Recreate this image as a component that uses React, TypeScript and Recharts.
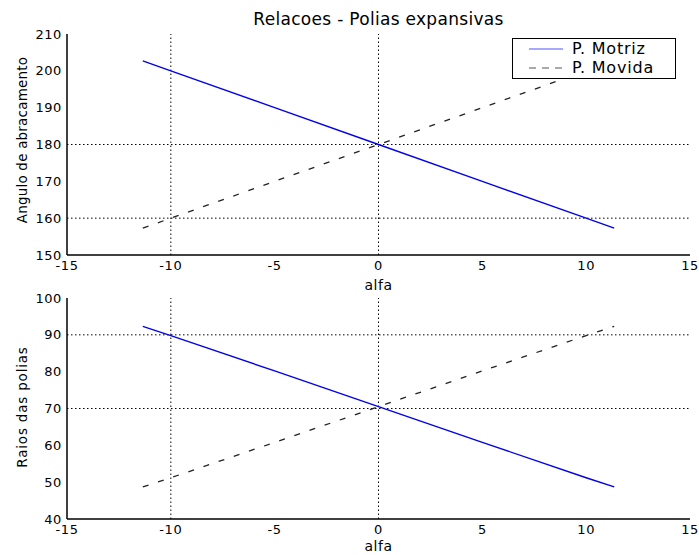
import { LineChart, Line, XAxis, YAxis, ReferenceLine } from "recharts";

// values
const alfa = [-11.35, -10, -5, 0, 5, 10, 11.35];
const anguloMotriz = [202.7, 200, 190, 180, 170, 160, 157.3];
const anguloMovida = [157.3, 160, 170, 180, 190, 200, 202.7];
const raioMotriz = [92.3, 89.8, 80.2, 70.5, 60.8, 51.2, 48.7];
const raioMovida = [48.7, 51.2, 60.8, 70.5, 80.2, 89.8, 92.3];

const xTicks = [-15, -10, -5, 0, 5, 10, 15];
const anguloTicks = [150, 160, 170, 180, 190, 200, 210];
const raioTicks = [40, 50, 60, 70, 80, 90, 100];

const topData = alfa.map((a, i) => ({ alfa: a, motriz: anguloMotriz[i], movida: anguloMovida[i] }));
const bottomData = alfa.map((a, i) => ({ alfa: a, motriz: raioMotriz[i], movida: raioMovida[i] }));

const FONT = "DejaVu Sans, sans-serif";
const tickStyle = { fontSize: 13, fill: "#000", fontFamily: FONT, letterSpacing: 0.6 };
const dotted = "1.5 2.5";

function Panel({ data, domain, ticks, gridX, gridY }: { data: any[]; domain: [number, number]; ticks: number[]; gridX: number[]; gridY: number[] }) {
    return (
        <LineChart width={699} height={280} data={data} margin={{ top: 34, right: 9, left: 0, bottom: 0 }}>
            <XAxis
                dataKey="alfa"
                type="number"
                domain={[-15, 15]}
                ticks={xTicks}
                height={25}
                tickLine={false}
                tickSize={0}
                tickMargin={6}
                axisLine={{ stroke: "#000", strokeWidth: 1.5 }}
                tick={tickStyle}
                allowDataOverflow
            />
            <XAxis xAxisId="top" orientation="top" type="number" domain={[-15, 15]} height={0} tick={false} tickLine={false} axisLine={{ stroke: "#000", strokeWidth: 1.5 }} />
            <YAxis
                type="number"
                domain={domain}
                ticks={ticks}
                width={67}
                tickLine={false}
                tickSize={0}
                tickMargin={5}
                axisLine={{ stroke: "#000", strokeWidth: 1.5 }}
                tick={tickStyle}
                allowDataOverflow
            />
            <YAxis yAxisId="right" orientation="right" type="number" domain={domain} width={0} tick={false} tickLine={false} axisLine={{ stroke: "#000", strokeWidth: 1.5 }} />
            {gridX.map((v) => (
                <ReferenceLine key={"x" + v} x={v} stroke="#000" strokeDasharray={dotted} />
            ))}
            {gridY.map((v) => (
                <ReferenceLine key={"y" + v} y={v} stroke="#000" strokeDasharray={dotted} />
            ))}
            <Line type="linear" dataKey="motriz" stroke="#0000ee" strokeWidth={1.4} dot={false} isAnimationActive={false} />
            <Line type="linear" dataKey="movida" stroke="#222" strokeWidth={1.3} strokeDasharray="6 10" dot={false} isAnimationActive={false} />
        </LineChart>
    );
}

export default function App() {
    return (
        <div style={{ position: "absolute", left: 0, top: 0, width: 699, height: 555, background: "#fff", fontFamily: FONT, color: "#000", overflow: "hidden" }}>
            <div style={{ position: "absolute", left: 0, top: 0 }}>
                <Panel data={topData} domain={[150, 210]} ticks={anguloTicks} gridX={[-10, 0]} gridY={[160, 180]} />
            </div>
            <div style={{ position: "absolute", left: 0, top: 264 }}>
                <Panel data={bottomData} domain={[40, 100]} ticks={raioTicks} gridX={[-10, 0]} gridY={[70, 90]} />
            </div>

            <div style={{ position: "absolute", left: 67, width: 623, top: 9, textAlign: "center", fontSize: 17, letterSpacing: 0.3, lineHeight: "20px" }}>Relacoes - Polias expansivas</div>
            <div style={{ position: "absolute", left: 67, width: 623, top: 276, textAlign: "center", fontSize: 14, letterSpacing: 0.5, lineHeight: "18px" }}>alfa</div>
            <div style={{ position: "absolute", left: 67, width: 623, top: 537, textAlign: "center", fontSize: 14, letterSpacing: 0.5, lineHeight: "18px" }}>alfa</div>

            <div style={{ position: "absolute", left: 22, top: 140, width: 0, height: 0 }}>
                <div style={{ position: "absolute", transform: "translate(-50%, -50%) rotate(-90deg)", whiteSpace: "nowrap", fontSize: 13.5, letterSpacing: 0.2 }}>Angulo de abracamento</div>
            </div>
            <div style={{ position: "absolute", left: 22, top: 407, width: 0, height: 0 }}>
                <div style={{ position: "absolute", transform: "translate(-50%, -50%) rotate(-90deg)", whiteSpace: "nowrap", fontSize: 13.5, letterSpacing: 0.8 }}>Raios das polias</div>
            </div>

            <div style={{ position: "absolute", left: 512, top: 38, width: 162, height: 39, border: "1.5px solid #000", background: "#fff", fontSize: 16, letterSpacing: 0.8 }}>
                <div style={{ display: "flex", alignItems: "center", height: 19, marginTop: 0 }}>
                    <svg width={59} height={10}><line x1={16} x2={50} y1={5} y2={5} stroke="#a8a8ff" strokeWidth={2} /></svg>
                    <span style={{ lineHeight: "19px" }}>P. Motriz</span>
                </div>
                <div style={{ display: "flex", alignItems: "center", height: 19 }}>
                    <svg width={59} height={10}><line x1={16} x2={50} y1={5} y2={5} stroke="#aaa" strokeWidth={2} strokeDasharray="7 6" /></svg>
                    <span style={{ lineHeight: "19px" }}>P. Movida</span>
                </div>
            </div>
        </div>
    );
}
